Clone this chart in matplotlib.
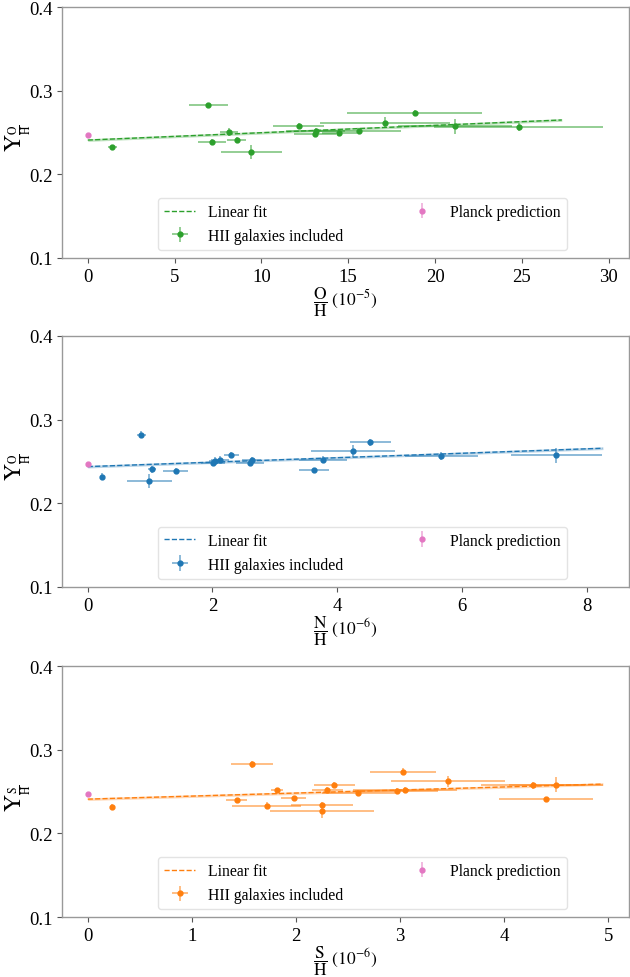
import numpy as np
import matplotlib
matplotlib.use("Agg")
import matplotlib.pyplot as plt

plt.rcParams['font.family'] = ['Liberation Serif', 'DejaVu Serif']
plt.rcParams['mathtext.fontset'] = 'stix'

# ---- Data ----
planck_x = [0.0]
planck_y = [0.247]
planck_yerr = [0.0004]

oh_x = [1.41, 6.94, 7.15, 8.13, 8.57, 9.42, 12.14, 13.07, 13.14, 14.49, 15.60, 17.14, 18.83, 21.15, 24.82]
oh_xerr = [0.25, 1.12, 0.81, 0.50, 0.56, 1.77, 1.48, 1.2, 1.7, 1.0, 2.46, 3.75, 3.90, 3.30, 4.85]
oh_y = [0.2326, 0.2824, 0.2386, 0.2505, 0.2410, 0.2269, 0.2580, 0.2480, 0.2520, 0.2493, 0.2520, 0.2620, 0.2733, 0.2577, 0.2565]
oh_yerr = [0.003, 0.0035, 0.004, 0.005, 0.0036, 0.0084, 0.0034, 0.003, 0.0036, 0.004, 0.0034, 0.0064, 0.004, 0.009, 0.0044]

nh_x = [0.225, 0.857, 0.99, 1.03, 1.41, 2.01, 2.04, 2.12, 2.30, 2.60, 2.63, 3.63, 3.77, 4.25, 4.53, 5.67, 7.51]
nh_xerr = [0.03, 0.072, 0.36, 0.064, 0.20, 0.19, 0.10, 0.15, 0.12, 0.23, 0.15, 0.24, 0.38, 0.67, 0.33, 0.59, 0.73]
nh_y = [0.2317, 0.2820, 0.2266, 0.2406, 0.2386, 0.2481, 0.2509, 0.2521, 0.2581, 0.2485, 0.2517, 0.2394, 0.2521, 0.2622, 0.2729, 0.2562, 0.2574]
nh_yerr = [0.004, 0.004, 0.008, 0.0044, 0.003, 0.003, 0.004, 0.0045, 0.003, 0.003, 0.004, 0.003, 0.0042, 0.007, 0.004, 0.0045, 0.009]

sh_x = [0.23, 1.43, 1.58, 1.72, 1.82, 1.98, 2.25, 2.25, 2.30, 2.37, 2.60, 2.97, 3.03, 3.05, 3.46, 4.28, 4.40, 4.50]
sh_xerr = [0.02, 0.10, 0.20, 0.33, 0.06, 0.12, 0.50, 0.30, 0.15, 0.20, 0.35, 0.40, 0.32, 0.50, 0.55, 0.50, 0.45, 0.45]
sh_y = [0.2317, 0.2394, 0.2825, 0.2330, 0.2517, 0.2420, 0.2266, 0.2340, 0.2521, 0.2581, 0.2485, 0.2509, 0.2740, 0.2521, 0.2622, 0.2574, 0.2406, 0.2581]
sh_yerr = [0.003, 0.003, 0.004, 0.004, 0.003, 0.003, 0.008, 0.004, 0.004, 0.003, 0.003, 0.004, 0.004, 0.004, 0.007, 0.004, 0.003, 0.009]

# linear fit coefficients (intercept, slope)
fit_oh = (0.241, 0.00088)
fit_nh = (0.2437, 0.00266)
fit_sh = (0.241, 0.00364)

yticks = [0.1, 0.2, 0.3, 0.4]
xticks_oh = [0, 5, 10, 15, 20, 25, 30]
xticks_nh = [0, 2, 4, 6, 8]
xticks_sh = [0, 1, 2, 3, 4, 5]

panels = [
    (oh_x, oh_xerr, oh_y, oh_yerr, fit_oh, '#2ca02c', xticks_oh,
     r'$\dfrac{\mathrm{O}}{\mathrm{H}}\ \left(10^{-5}\right)$', r'$\mathrm{Y}_{\frac{\mathrm{O}}{\mathrm{H}}}$'),
    (nh_x, nh_xerr, nh_y, nh_yerr, fit_nh, '#1f77b4', xticks_nh,
     r'$\dfrac{\mathrm{N}}{\mathrm{H}}\ \left(10^{-6}\right)$', r'$\mathrm{Y}_{\frac{\mathrm{O}}{\mathrm{H}}}$'),
    (sh_x, sh_xerr, sh_y, sh_yerr, fit_sh, '#ff7f0e', xticks_sh,
     r'$\dfrac{\mathrm{S}}{\mathrm{H}}\ \left(10^{-6}\right)$', r'$\mathrm{Y}_{\frac{\mathrm{S}}{\mathrm{H}}}$'),
]

fig = plt.figure(figsize=(6.3, 9.78), dpi=100)
bottoms = [0.7352, 0.3990, 0.0613]
height = 0.2565
left, width = 0.0984, 0.8995
pink = '#e377c2'

for (x, xe, y, ye, fit, col, xt, xl, yl), b in zip(panels, bottoms):
    ax = fig.add_axes([left, b, width, height])
    x = np.array(x); y = np.array(y)
    xf = np.linspace(0, 1.1 * x.max(), 100)
    yf = fit[0] + fit[1] * xf
    ax.fill_between(xf, yf - 0.0016, yf + 0.0016, color=col, alpha=0.3, lw=0)
    ln, = ax.plot(xf, yf, ls='--', color=col, lw=1.0, label='Linear fit')
    eb = ax.errorbar(x, y, xerr=xe, yerr=ye, fmt='o', ms=3.5, color=col,
                     ecolor=matplotlib.colors.to_rgba(col, 0.55), elinewidth=1.3,
                     label='HII galaxies included')
    pb = ax.errorbar(planck_x, planck_y, yerr=planck_yerr, fmt='o', ms=3.5,
                     color=pink, ecolor=matplotlib.colors.to_rgba(pink, 0.55),
                     elinewidth=1.3, label='Planck prediction')
    ax.set_ylim(0.1, 0.4)
    ax.set_yticks(yticks)
    ax.set_yticklabels([f'{v:.1f}' for v in yticks])
    ax.set_xticks(xt)
    ax.tick_params(labelsize=13.5, color='#555555', length=3.5, width=0.8)
    for s in ax.spines.values():
        s.set_color('#999999')
        s.set_linewidth(1.0)
    ax.set_xlabel(xl, fontsize=12.5)
    ax.xaxis.set_label_coords(0.5, -0.105)
    ax.xaxis.label.set_va('top')
    ax.set_ylabel(yl, fontsize=17)
    ax.yaxis.set_label_coords(-0.052, 0.48)
    leg = ax.legend(handles=[ln, eb, pb], ncol=2, loc='lower center',
                    bbox_to_anchor=(0.53, 0.0), fontsize=11.3, columnspacing=4.0,
                    handlelength=2.0, frameon=True, fancybox=True)
    leg.get_frame().set_edgecolor('#dddddd')

fig.savefig('out.png', dpi=100)
